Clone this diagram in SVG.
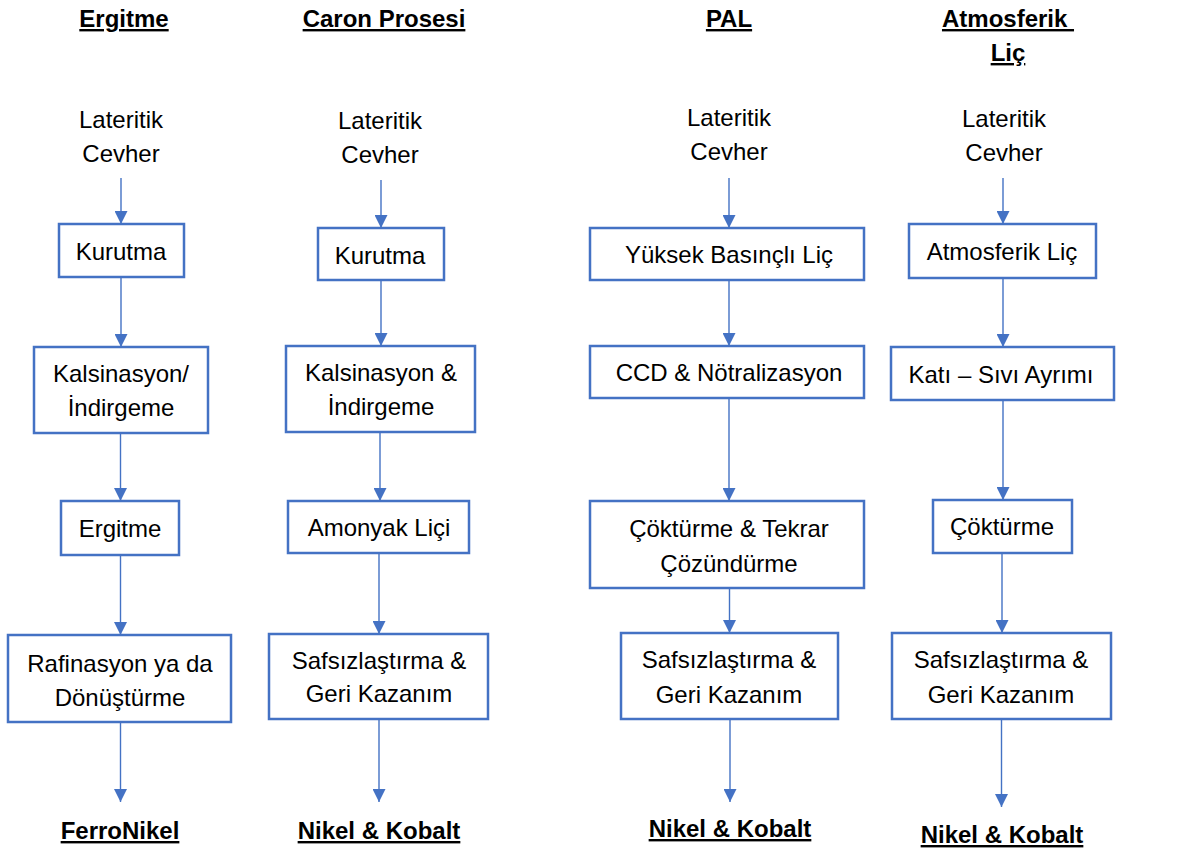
<svg xmlns="http://www.w3.org/2000/svg" width="1203" height="853" viewBox="0 0 1203 853">
<defs>
<style>
text{font-family:"Liberation Sans",Arial,sans-serif;font-size:24px;fill:#000;text-anchor:middle}
.t{font-weight:bold;text-decoration:underline}
.b{fill:#fff;stroke:#4472C4;stroke-width:2.5}
.c line{stroke:#4472C4;stroke-width:1.4;marker-end:url(#ah)}
</style>
<marker id="ah" viewBox="0 0 10 10" refX="10" refY="5" markerUnits="userSpaceOnUse" markerWidth="13" markerHeight="13" orient="auto">
<path d="M0,0 L10,5 L0,10 z" fill="#4472C4"/>
</marker>
</defs>
<rect width="1203" height="853" fill="#fff"/>
<g id="titles">
<text class="t" x="124" y="27">Ergitme</text>
<text class="t" x="384" y="27">Caron Prosesi</text>
<text class="t" x="729" y="27">PAL</text>
<text class="t" x="1008" y="27" xml:space="preserve">Atmosferik </text>
<text class="t" x="1008" y="61">Liç</text>
</g>
<g class="c" id="connectors">
<line x1="121" y1="178" x2="121" y2="224"/>
<line x1="121" y1="277" x2="121" y2="347"/>
<line x1="120.5" y1="433" x2="120.5" y2="501"/>
<line x1="120.5" y1="555" x2="120.5" y2="635"/>
<line x1="120.5" y1="722" x2="120.5" y2="802"/>
<line x1="381" y1="180" x2="381" y2="228"/>
<line x1="381" y1="280" x2="381" y2="346"/>
<line x1="380" y1="432" x2="380" y2="501"/>
<line x1="379" y1="553" x2="379" y2="634"/>
<line x1="379" y1="719" x2="379" y2="802"/>
<line x1="729" y1="178" x2="729" y2="228"/>
<line x1="729" y1="280" x2="729" y2="346"/>
<line x1="729" y1="398" x2="729" y2="501"/>
<line x1="729.5" y1="588" x2="729.5" y2="633"/>
<line x1="730" y1="719" x2="730" y2="802"/>
<line x1="1003" y1="178" x2="1003" y2="224"/>
<line x1="1003" y1="277" x2="1003" y2="347"/>
<line x1="1003" y1="400" x2="1003" y2="500"/>
<line x1="1002" y1="553" x2="1002" y2="633"/>
<line x1="1001.5" y1="719" x2="1001.5" y2="807"/>
</g>
<g id="c1-ore"><text x="121" y="128">Lateritik</text><text x="121" y="162">Cevher</text></g>
<g id="c1-kurutma"><rect class="b" x="59" y="224" width="125" height="53"/><text x="121" y="260">Kurutma</text></g>
<g id="c1-kalsinasyon"><rect class="b" x="34" y="347" width="174" height="86"/><text x="121" y="382">Kalsinasyon/</text><text x="121" y="416">İndirgeme</text></g>
<g id="c1-ergitme"><rect class="b" x="61" y="501" width="118" height="54"/><text x="120" y="537">Ergitme</text></g>
<g id="c1-rafinasyon"><rect class="b" x="8" y="635" width="223" height="87"/><text x="120" y="672">Rafinasyon ya da</text><text x="120" y="706">Dönüştürme</text></g>
<g id="c1-product"><text class="t" x="120" y="839">FerroNikel</text></g>

<g id="c2-ore"><text x="380" y="129">Lateritik</text><text x="380" y="163">Cevher</text></g>
<g id="c2-kurutma"><rect class="b" x="318" y="228" width="126" height="52"/><text x="380" y="264">Kurutma</text></g>
<g id="c2-kalsinasyon"><rect class="b" x="286" y="346" width="189" height="86"/><text x="381" y="381">Kalsinasyon &amp;</text><text x="381" y="415">İndirgeme</text></g>
<g id="c2-amonyak"><rect class="b" x="288" y="501" width="181" height="52"/><text x="379" y="536">Amonyak  Liçi</text></g>
<g id="c2-safs"><rect class="b" x="269" y="634" width="219" height="85"/><text x="379" y="669">Safsızlaştırma &amp;</text><text x="379" y="702">Geri Kazanım</text></g>
<g id="c2-product"><text class="t" x="379" y="839">Nikel &amp; Kobalt</text></g>

<g id="c3-ore"><text x="729" y="126">Lateritik</text><text x="729" y="160">Cevher</text></g>
<g id="c3-yuksek"><rect class="b" x="590" y="228" width="274" height="52"/><text x="729" y="263">Yüksek  Basınçlı  Liç</text></g>
<g id="c3-ccd"><rect class="b" x="590" y="346" width="274" height="52"/><text x="729" y="381">CCD &amp; Nötralizasyon</text></g>
<g id="c3-cokturme"><rect class="b" x="590" y="501" width="274" height="87"/><text x="729" y="537">Çöktürme &amp; Tekrar</text><text x="729" y="572">Çözündürme</text></g>
<g id="c3-safs"><rect class="b" x="621" y="633" width="217" height="86"/><text x="729" y="668">Safsızlaştırma &amp;</text><text x="729" y="703">Geri Kazanım</text></g>
<g id="c3-product"><text class="t" x="730" y="837">Nikel &amp; Kobalt</text></g>

<g id="c4-ore"><text x="1004" y="127">Lateritik</text><text x="1004" y="161">Cevher</text></g>
<g id="c4-atmliç"><rect class="b" x="909" y="224" width="187" height="54"/><text x="1002" y="260">Atmosferik Liç</text></g>
<g id="c4-kati"><rect class="b" x="891" y="347" width="223" height="53"/><text x="1001" y="383">Katı – Sıvı Ayrımı</text></g>
<g id="c4-cokturme"><rect class="b" x="933" y="500" width="139" height="53"/><text x="1002" y="535">Çöktürme</text></g>
<g id="c4-safs"><rect class="b" x="892" y="633" width="219" height="86"/><text x="1001" y="668">Safsızlaştırma &amp;</text><text x="1001" y="703">Geri Kazanım</text></g>
<g id="c4-product"><text class="t" x="1002" y="843">Nikel &amp; Kobalt</text></g>
</svg>
